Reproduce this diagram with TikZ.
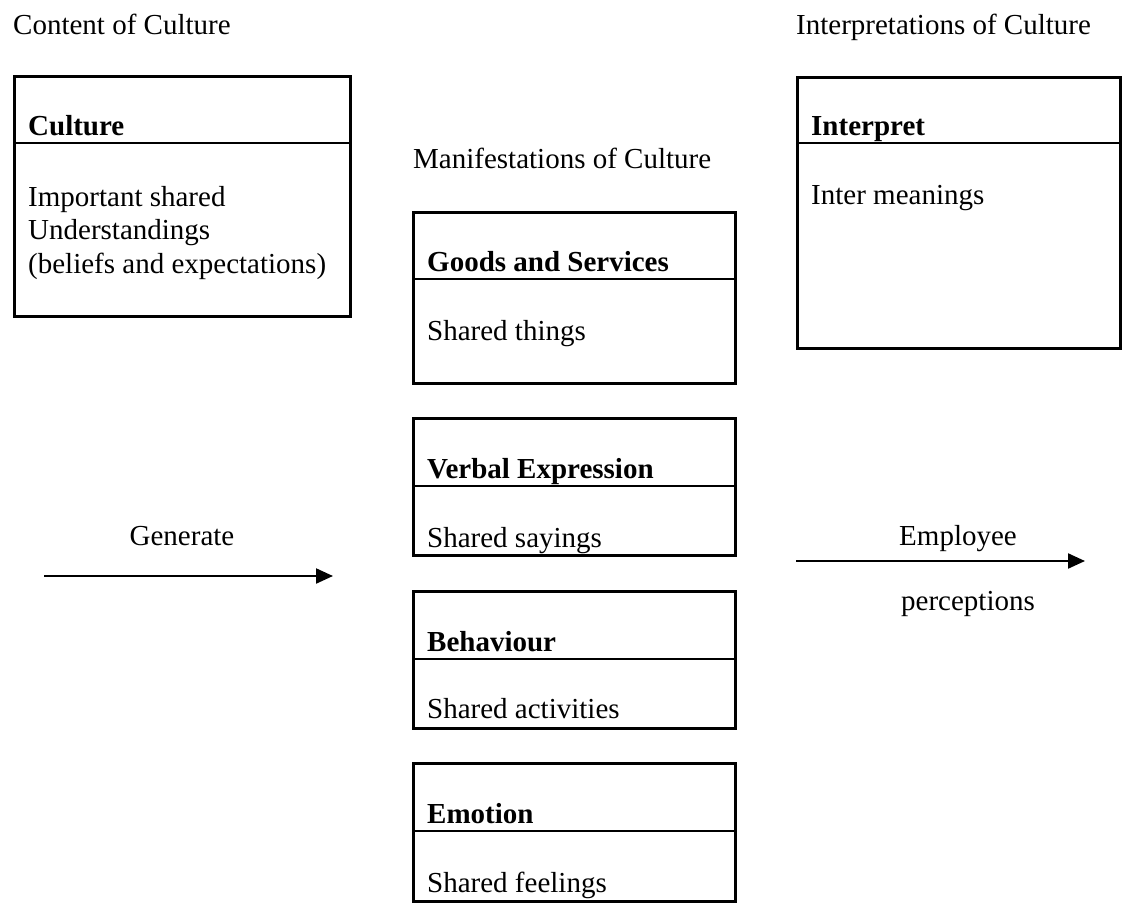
\documentclass[tikz,border=0pt]{standalone}
\usepackage{fontspec}
\setmainfont{Liberation Serif}
\usetikzlibrary{arrows.meta}
\begin{document}
\begin{tikzpicture}[x=1pt,y=-1pt,
  box/.style={draw,line width=3pt,rectangle,inner sep=0pt,anchor=north west},
  divider/.style={line width=2.2pt},
  txt/.style={anchor=base west,inner sep=0pt,font=\fontsize{29pt}{33pt}\selectfont},
  ctxt/.style={anchor=base,inner sep=0pt,font=\fontsize{29pt}{33pt}\selectfont},
  flow/.style={line width=2.2pt,-{Triangle[length=17pt,width=15pt]}}]
\useasboundingbox (0,0) rectangle (1126,917);

% column headings
\node[txt] (hcontent) at (13,35) {Content of Culture};
\node[txt] (hinterp) at (796,35) {Interpretations of Culture};
\node[txt] (hmanif) at (413,169) {Manifestations of Culture};

% content of culture
\node[box,minimum width=336pt,minimum height=240pt] (culture) at (13,75) {};
\draw[divider] (culture.west |- 0,143) -- (culture.east |- 0,143);
\node[txt] (culturet) at (28,136) {\textbf{Culture}};
\node[txt] (cultureb1) at (28,207) {Important shared};
\node[txt] (cultureb2) at (28,240) {Understandings};
\node[txt] (cultureb3) at (28,273) {(beliefs and expectations)};

% interpretations of culture
\node[box,minimum width=323pt,minimum height=271pt] (interp) at (796,76) {};
\draw[divider] (interp.west |- 0,143) -- (interp.east |- 0,143);
\node[txt] (interpt) at (811,136) {\textbf{Interpret}};
\node[txt] (interpb) at (811,205) {Inter meanings};

% manifestations of culture
\node[box,minimum width=322pt,minimum height=171pt] (goods) at (412,211) {};
\draw[divider] (goods.west |- 0,279) -- (goods.east |- 0,279);
\node[txt] (goodst) at (427,272) {\textbf{Goods and Services}};
\node[txt] (goodsb) at (427,340) {Shared things};

\node[box,minimum width=322pt,minimum height=137pt] (verbal) at (412,417) {};
\draw[divider] (verbal.west |- 0,486) -- (verbal.east |- 0,486);
\node[txt] (verbalt) at (427,478) {\textbf{Verbal Expression}};
\node[txt] (verbalb) at (427,547) {Shared sayings};

\node[box,minimum width=322pt,minimum height=137pt] (behav) at (412,590) {};
\draw[divider] (behav.west |- 0,659) -- (behav.east |- 0,659);
\node[txt] (behavt) at (427,651) {\textbf{Behaviour}};
\node[txt] (behavb) at (427,718) {Shared activities};

\node[box,minimum width=322pt,minimum height=138pt] (emotion) at (412,762) {};
\draw[divider] (emotion.west |- 0,831) -- (emotion.east |- 0,831);
\node[txt] (emotiont) at (427,823) {\textbf{Emotion}};
\node[txt] (emotionb) at (427,892) {Shared feelings};

% flow arrows
\coordinate (genstart) at (44,576);
\coordinate (genend) at (333,576);
\draw[flow] (genstart) -- (genend);
\node[ctxt] (genlabel) at (182,545) {Generate};

\coordinate (empstart) at (796,561);
\coordinate (empend) at (1085,561);
\draw[flow] (empstart) -- (empend);
\node[ctxt] (emplabel) at (958,545) {Employee};
\node[ctxt] (perclabel) at (968,610) {perceptions};
\end{tikzpicture}
\end{document}
